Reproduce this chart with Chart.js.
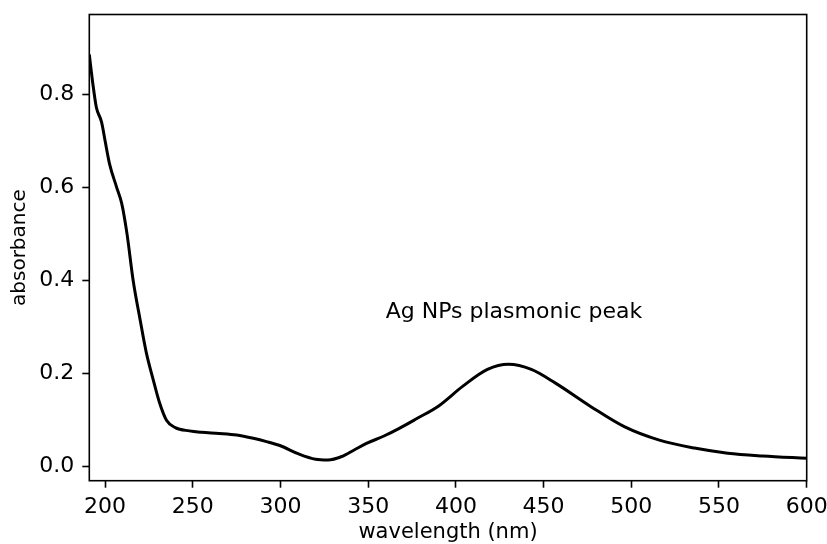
<!DOCTYPE html>
<html>
<head>
<meta charset="utf-8">
<script src="https://cdn.jsdelivr.net/npm/chart.js@4/dist/chart.umd.min.js"></script>
<style>
    html, body { margin: 0; padding: 0; background: #fff; }
    #wrap { width: 827px; height: 544px; }
</style>
</head>
<body>
<div id="wrap"><canvas id="grafico" width="827" height="544"></canvas></div>
<script>
const comprimentoOnda = [191, 193, 195, 198, 200, 202.5, 206.5, 209.5, 212.5, 216, 220, 223.5, 227.5, 231, 235, 240, 248, 255, 265, 275, 284.5, 292, 300, 310, 320, 327, 335, 342, 349, 359, 368, 378, 390, 404, 418, 430, 443, 457, 477, 496, 516, 536, 555, 575, 600];
const absorbancia = [0.885, 0.823, 0.772, 0.740, 0.700, 0.651, 0.601, 0.565, 0.500, 0.400, 0.315, 0.245, 0.186, 0.138, 0.100, 0.084, 0.077, 0.074, 0.0715, 0.068, 0.061, 0.054, 0.045, 0.028, 0.016, 0.0145, 0.022, 0.036, 0.050, 0.066, 0.083, 0.104, 0.130, 0.173, 0.209, 0.220, 0.209, 0.179, 0.129, 0.086, 0.057, 0.040, 0.029, 0.023, 0.018];

const ticksX = [200, 250, 300, 350, 400, 450, 500, 550, 600];
const ticksY = [0.0, 0.2, 0.4, 0.6, 0.8];

const anotacao = { texto: 'Ag NPs plasmonic peak', x: 360, y: 0.32 };

const fonte = 'DejaVu Sans';

// zera o padding automático dos rótulos
function semPadding(s) {
    s.paddingTop = 0;
    s.paddingBottom = 0;
    s.paddingLeft = 0;
    s.paddingRight = 0;
}

// moldura do eixo + texto da anotação
const pluginMoldura = {
    id: 'moldura',
    afterDatasetsDraw(chart) {
        const { ctx, chartArea: a, scales } = chart;
        ctx.save();
        ctx.fillStyle = '#000';
        ctx.font = `22px "${fonte}"`;
        ctx.textAlign = 'left';
        ctx.textBaseline = 'alphabetic';
        ctx.fillText(anotacao.texto, scales.x.getPixelForValue(anotacao.x), scales.y.getPixelForValue(anotacao.y));
        ctx.strokeStyle = '#000';
        ctx.lineWidth = 1.6;
        ctx.strokeRect(a.left, a.top, a.right - a.left, a.bottom - a.top);
        ctx.restore();
    }
};

new Chart(document.getElementById('grafico').getContext('2d'), {
    type: 'line',
    data: {
        datasets: [{
            data: comprimentoOnda.map((x, i) => ({ x: x, y: absorbancia[i] })),
            borderColor: '#000',
            borderWidth: 3,
            pointRadius: 0,
            fill: false,
            cubicInterpolationMode: 'monotone'
        }]
    },
    options: {
        responsive: false,
        animation: false,
        layout: { padding: { left: 0, right: 20.3, top: 14.5, bottom: 0 } },
        plugins: {
            legend: { display: false },
            tooltip: { enabled: false }
        },
        scales: {
            x: {
                type: 'linear',
                min: 191,
                max: 600,
                afterBuildTicks: s => { s.ticks = ticksX.map(v => ({ value: v })); },
                afterFit: s => { s.height = 63.3; semPadding(s); },
                border: { display: false },
                grid: { drawOnChartArea: false, drawTicks: true, tickLength: 7, tickWidth: 1.6, color: '#000' },
                ticks: { color: '#000', padding: 6, maxRotation: 0, font: { family: fonte, size: 22 }, callback: v => String(v) },
                title: { display: true, text: 'wavelength (nm)', color: '#000', padding: { top: 0, bottom: 0.5 }, font: { family: fonte, size: 21, lineHeight: 1.0 } }
            },
            y: {
                type: 'linear',
                min: -0.030,
                max: 0.971,
                afterBuildTicks: s => { s.ticks = ticksY.map(v => ({ value: v })); },
                afterFit: s => { s.width = 89.3; semPadding(s); },
                border: { display: false },
                grid: { drawOnChartArea: false, drawTicks: true, tickLength: 7, tickWidth: 1.6, color: '#000' },
                ticks: { color: '#000', padding: 8, font: { family: fonte, size: 22 }, callback: v => v.toFixed(1) },
                title: { display: true, text: 'absorbance', color: '#000', padding: { top: 8, bottom: 0 }, font: { family: fonte, size: 20 } }
            }
        }
    },
    plugins: [pluginMoldura]
});
</script>
</body>
</html>
